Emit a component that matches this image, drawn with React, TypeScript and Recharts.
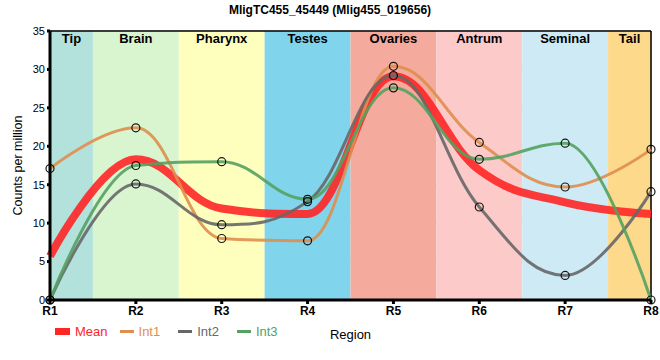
import React from "react"
import { ComposedChart, Line, XAxis, YAxis, CartesianGrid, ReferenceArea, ReferenceLine, Legend } from "recharts"

// values
const positions = [1, 2, 3, 4, 5, 6, 7, 8]
const mean = [5.7, 18.3, 11.9, 11.2, 29.1, 16.9, 12.7, 11.2]
const int1 = [17.1, 22.4, 8.0, 7.7, 30.4, 20.5, 14.7, 19.6]
const int2 = [0, 15.1, 9.8, 12.8, 29.2, 12.1, 3.2, 14.1]
const int3 = [0, 17.5, 18.0, 13.1, 27.6, 18.3, 20.4, 0]

const regionNames = ["Tip", "Brain", "Pharynx", "Testes", "Ovaries", "Antrum", "Seminal", "Tail"]
const regionColors = ["#b3e2dc", "#d9f5d0", "#fefebd", "#80d4ec", "#f4ab9d", "#fdcaca", "#ceebf5", "#fdd98c"]
const yTicks = [0, 5, 10, 15, 20, 25, 30, 35]

const data = positions.map((x, i) => ({
  x,
  mean: mean[i],
  int1: int1[i],
  int2: int2[i],
  int3: int3[i],
}))

const series = [
  { key: "mean", name: "Mean", color: "#ff2626", width: 8, dots: false },
  { key: "int1", name: "Int1", color: "#df8e4e", width: 3, dots: true },
  { key: "int2", name: "Int2", color: "#676767", width: 3, dots: true },
  { key: "int3", name: "Int3", color: "#55a162", width: 3, dots: true },
]

const font = "Arial, 'Liberation Sans', sans-serif"

// spline like the one in the reference: control points 1/2.5 of the way to
// neighbours, kept on a line through the point, flattened at extremes
function splineCurve(context: any) {
  let pts: number[][] = []
  return {
    areaStart() {},
    areaEnd() {},
    lineStart() {
      pts = []
    },
    point(x: number, y: number) {
      pts.push([+x, +y])
    },
    lineEnd() {
      const n = pts.length
      if (!n) return
      const left: (number[] | null)[] = new Array(n).fill(null)
      const right: (number[] | null)[] = new Array(n).fill(null)
      const sm = 1.5
      const den = sm + 1
      for (let i = 1; i < n - 1; i++) {
        const [lx, ly] = pts[i - 1]
        const [px, py] = pts[i]
        const [nx, ny] = pts[i + 1]
        const lcx = (sm * px + lx) / den
        let lcy = (sm * py + ly) / den
        const rcx = (sm * px + nx) / den
        let rcy = (sm * py + ny) / den
        let corr = 0
        if (rcx !== lcx) corr = ((rcy - lcy) * (rcx - px)) / (rcx - lcx) + py - rcy
        lcy += corr
        rcy += corr
        if (lcy > ly && lcy > py) {
          lcy = Math.max(ly, py)
          rcy = 2 * py - lcy
        } else if (lcy < ly && lcy < py) {
          lcy = Math.min(ly, py)
          rcy = 2 * py - lcy
        }
        if (rcy > ny && rcy > py) {
          rcy = Math.max(ny, py)
          lcy = 2 * py - rcy
        } else if (rcy < ny && rcy < py) {
          rcy = Math.min(ny, py)
          lcy = 2 * py - rcy
        }
        left[i] = [lcx, lcy]
        right[i] = [rcx, rcy]
      }
      context.moveTo(pts[0][0], pts[0][1])
      for (let i = 1; i < n; i++) {
        const c1 = right[i - 1] || pts[i - 1]
        const c2 = left[i] || pts[i]
        context.bezierCurveTo(c1[0], c1[1], c2[0], c2[1], pts[i][0], pts[i][1])
      }
    },
  }
}

const LegendContent = () => (
  <div style={{ display: "flex", alignItems: "center", fontFamily: font, fontSize: 13 }}>
    {series.map((s) => (
      <div key={s.key} style={{ display: "flex", alignItems: "center", marginRight: s.key === "mean" ? 12 : 18 }}>
        <div
          style={{
            width: s.key === "mean" ? 15 : 14,
            height: s.key === "mean" ? 7 : 3,
            background: s.color,
            marginRight: 5,
          }}
        />
        <span style={{ color: s.color }}>{s.name}</span>
      </div>
    ))}
  </div>
)

export default function App() {
  return (
    <div style={{ position: "absolute", left: 0, top: 0, width: 660, height: 360, background: "#fff", fontFamily: font }}>
      <div
        style={{
          position: "absolute",
          top: 3,
          left: 0,
          width: 660,
          textAlign: "center",
          fontWeight: "bold",
          fontSize: 12,
        }}
      >
        MligTC455_45449 (Mlig455_019656)
      </div>
      <ComposedChart width={660} height={360} data={data} margin={{ top: 31, right: 9, left: 0, bottom: 15 }}>
        {regionNames.map((name, i) => (
          <ReferenceArea
            key={name}
            x1={Math.max(1, positions[i] - 0.5)}
            x2={Math.min(8, positions[i] + 0.5)}
            y1={0}
            y2={35}
            fill={regionColors[i]}
            fillOpacity={1}
            stroke="none"
            label={{ value: name, position: "insideTop", offset: 3, fontWeight: "bold", fontSize: 13, fill: "#000" }}
          />
        ))}
        <CartesianGrid stroke="#c8c8c8" strokeWidth={1} />
        <XAxis
          dataKey="x"
          type="number"
          domain={[1, 8]}
          ticks={positions}
          tickFormatter={(v) => "R" + v}
          stroke="#000"
          strokeWidth={3}
          tickSize={4}
          height={45}
          tick={{ fill: "#000", fontSize: 12, fontWeight: "bold" }}
          label={{ value: "Region", position: "insideBottom", offset: 6, fill: "#000", fontSize: 13 }}
        />
        <YAxis
          domain={[0, 35]}
          ticks={yTicks}
          width={50}
          stroke="#000"
          strokeWidth={3}
          tickSize={3}
          tick={{ fill: "#000", fontSize: 11 }}
          label={{ value: "Counts per million", angle: -90, position: "insideLeft", offset: 18, style: { textAnchor: "middle" }, fill: "#000", fontSize: 12.5 }}
        />
        <ReferenceLine x={8} stroke="#000" strokeWidth={1.5} />
        <ReferenceLine y={35} stroke="#000" strokeWidth={1.5} />
        {series.map((s) => (
          <Line
            key={s.key}
            type={splineCurve as any}
            dataKey={s.key}
            name={s.name}
            stroke={s.color}
            strokeWidth={s.width}
            strokeOpacity={0.9}
            dot={s.dots ? { r: 4, fill: "none", stroke: "#000", strokeWidth: 1.2 } : false}
            activeDot={false}
            isAnimationActive={false}
          />
        ))}
        <Legend
          content={<LegendContent />}
          layout="horizontal"
          verticalAlign="middle"
          align="center"
          wrapperStyle={{ top: 324, left: 55, width: "auto" }}
        />
      </ComposedChart>
    </div>
  )
}
